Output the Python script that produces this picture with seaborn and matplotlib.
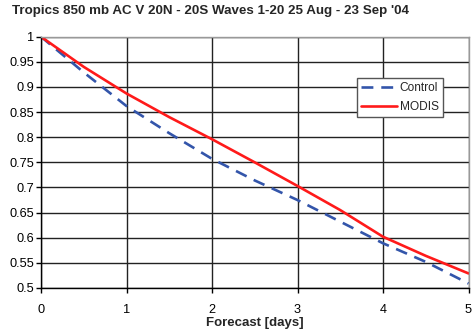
import matplotlib
matplotlib.use("Agg")
import matplotlib.pyplot as plt
import seaborn as sns
import pandas as pd

days = [0, 0.5, 1, 1.5, 2, 2.5, 3, 3.5, 4, 4.5, 5]
control = [1.0, 0.929, 0.862, 0.808, 0.757, 0.714, 0.675, 0.632, 0.589, 0.552, 0.509]
modis = [1.0, 0.940, 0.887, 0.840, 0.796, 0.750, 0.703, 0.655, 0.602, 0.564, 0.529]
series_names = ["Control", "MODIS"]
yticks = [0.5, 0.55, 0.6, 0.65, 0.7, 0.75, 0.8, 0.85, 0.9, 0.95, 1]
ytick_labels = ["0.5", "0.55", "0.6", "0.65", "0.7", "0.75", "0.8", "0.85", "0.9", "0.95", "1"]
xticks = [0, 1, 2, 3, 4, 5]
title = "Tropics 850 mb AC V 20N - 20S Waves 1-20 25 Aug - 23 Sep '04"
xlabel = "Forecast [days]"

df = pd.DataFrame({
    "day": days * 2,
    "value": control + modis,
    "series": [series_names[0]] * len(days) + [series_names[1]] * len(days),
})

sns.set_theme(style="white")
plt.rcParams["font.family"] = ["Liberation Sans", "DejaVu Sans"]

fig = plt.figure(figsize=(4.72, 3.32), dpi=100)
ax = fig.add_axes([41 / 472, 1 - 288 / 332, (468.5 - 41) / 472, (288 - 36.7) / 332])

palette = {"Control": "#3355AA", "MODIS": "#FF1A1A"}
sns.lineplot(data=df, x="day", y="value", hue="series", style="series",
             palette=palette, dashes={"Control": (4.5, 3), "MODIS": ""},
             linewidth=1.9, ax=ax, legend=True)

ax.set_xlim(0, 5)
ax.set_ylim(0.5, 1)
ax.set_xticks(xticks)
ax.set_yticks(yticks)
ax.set_yticklabels(ytick_labels)
ax.grid(True, color="#222222", linewidth=1.0)
ax.set_axisbelow(True)
for s in ["top", "right"]:
    ax.spines[s].set_color("#999999")
    ax.spines[s].set_linewidth(1.0)
for s in ["left", "bottom"]:
    ax.spines[s].set_color("#000000")
    ax.spines[s].set_linewidth(1.0)
ax.tick_params(axis="both", which="major", direction="out", length=3.5, width=1,
               color="black", labelsize=9.2, labelcolor="black", pad=1.5, left=True, bottom=True)
ax.tick_params(axis="x", pad=8)
ax.set_xlabel(xlabel, fontsize=9.5, fontweight="bold", labelpad=1)
ax.set_ylabel("")

leg = ax.legend(loc="upper left", bbox_to_anchor=((356.7 - 41) / 427.5, 1 - (78.3 - 36.7) / 251.3),
                fontsize=8.6, frameon=True, fancybox=False, framealpha=1,
                edgecolor="#555555", handlelength=3.0, handletextpad=0.25,
                borderpad=0.35, labelspacing=0.55, borderaxespad=0)
leg.get_frame().set_linewidth(1.0)

fig.text(12 / 472, 1 - 11 / 332, title, fontsize=9.6, fontweight="bold", ha="left", va="center")

fig.savefig("out.png", dpi=100)
